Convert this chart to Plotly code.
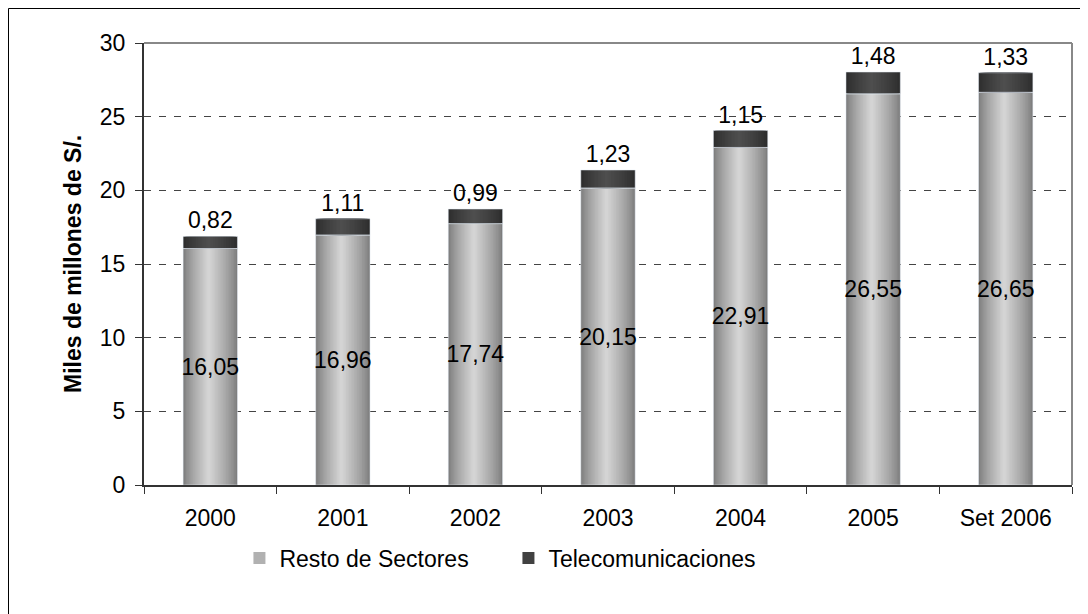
import plotly.graph_objects as go

# ---- data ----
categories = ["2000", "2001", "2002", "2003", "2004", "2005", "Set 2006"]
resto = [16.05, 16.96, 17.74, 20.15, 22.91, 26.55, 26.65]
telecom = [0.82, 1.11, 0.99, 1.23, 1.15, 1.48, 1.33]
series_names = ["Resto de Sectores", "Telecomunicaciones"]
y_title = "Miles de millones de S/."

def fmt(v):
    return f"{v:.2f}".replace(".", ",")

W, H = 1088, 614
OFF = 8  # page body margin
L, R, T, B = 144 - OFF, W + OFF - 1072, 43 - OFF, H + OFF - 485
pw, ph = W - L - R, H - T - B

FONT = "Liberation Sans, Arial, sans-serif"
FS = 23
BAR_W = 0.41
PEAK = 0.47  # fraction of width where the cylinder highlight sits
N = 18

def lerp(c1, c2, t):
    return "rgb(%d,%d,%d)" % tuple(round(a + (b - a) * t) for a, b in zip(c1, c2))

fig = go.Figure()

def cylinder(y, base, dark, light, name):
    for k in range(N):
        t = k / N
        left = -BAR_W / 2 + t * (PEAK * BAR_W)
        right = BAR_W / 2 - t * ((1 - PEAK) * BAR_W)
        tt = (k / (N - 1)) ** 0.8
        fig.add_trace(go.Bar(
            x=categories, y=y, base=base,
            width=right - left, offset=left,
            marker=dict(color=lerp(dark, light, tt), line=dict(width=0)),
            name=name, legendgroup=name, showlegend=(k == N // 2),
            hoverinfo="skip",
        ))

cylinder(resto, None, (125, 125, 125), (212, 212, 212), series_names[0])
cylinder(telecom, resto, (45, 45, 45), (78, 78, 78), series_names[1])

# text label carriers (transparent)
fig.add_trace(go.Bar(
    x=categories, y=resto, width=BAR_W, marker=dict(color="rgba(0,0,0,0)"),
    text=[fmt(v) for v in resto], textposition="inside", insidetextanchor="middle",
    textangle=0, constraintext="none",
    textfont=dict(size=FS, color="black", family=FONT),
    showlegend=False, hoverinfo="skip",
))
fig.add_trace(go.Bar(
    x=categories, y=telecom, base=resto, width=BAR_W, marker=dict(color="rgba(0,0,0,0)"),
    text=[fmt(v) for v in telecom], textposition="outside", textangle=0,
    constraintext="none", textfont=dict(size=FS, color="black", family=FONT),
    showlegend=False, hoverinfo="skip", cliponaxis=False,
))

fig.update_layout(
    width=W, height=H,
    margin=dict(l=L, r=R, t=T, b=B, pad=0),
    barmode="overlay",
    plot_bgcolor="white", paper_bgcolor="white",
    font=dict(family=FONT, size=FS, color="black"),
    showlegend=True,
    legend=dict(
        orientation="h", x=(255 - 144) / pw - 0.02 + 3 / pw, xanchor="left",
        y=(485 - 558) / ph, yanchor="middle",
        font=dict(size=FS, family=FONT), entrywidth=224, entrywidthmode="pixels",
        bgcolor="rgba(0,0,0,0)", traceorder="normal",
    ),
    xaxis=dict(
        type="category", range=[-0.5, 6.5], tickson="boundaries",
        ticks="outside", ticklen=7, tickwidth=1, tickcolor="#333",
        showline=True, linecolor="#333", linewidth=2, showgrid=False,
        ticklabelstandoff=11,
        tickfont=dict(size=FS, family=FONT, color="black"),
    ),
    yaxis=dict(
        range=[0, 30], dtick=5, tick0=0,
        ticks="outside", ticklen=7, tickwidth=1, tickcolor="#333",
        showline=True, linecolor="#333", linewidth=2,
        showgrid=True, gridcolor="#444", gridwidth=1, griddash="7px,8px",
        zeroline=False, ticklabelstandoff=5,
        tickfont=dict(size=FS, family=FONT, color="black"),
    ),
    annotations=[dict(
        text="<b>" + y_title + "</b>", xref="paper", yref="paper",
        x=(73 - 144) / pw, y=0.5, xanchor="center", yanchor="middle",
        textangle=-90, showarrow=False, font=dict(size=FS, family=FONT, color="black"),
    )],
    shapes=[
        dict(type="line", xref="paper", yref="paper", x0=0, x1=1, y0=1, y1=1,
             line=dict(color="#888", width=2), layer="above"),
        dict(type="line", xref="paper", yref="paper", x0=1, x1=1, y0=0, y1=1,
             line=dict(color="#888", width=2), layer="above"),
        dict(type="rect", xref="paper", yref="paper",
             x0=-L / pw + 0.5 / pw, x1=1.2, y0=-0.6, y1=1 + (T - 0.5) / ph,
             line=dict(color="black", width=1), layer="below"),
    ],
)

fig.write_html("out.html")
